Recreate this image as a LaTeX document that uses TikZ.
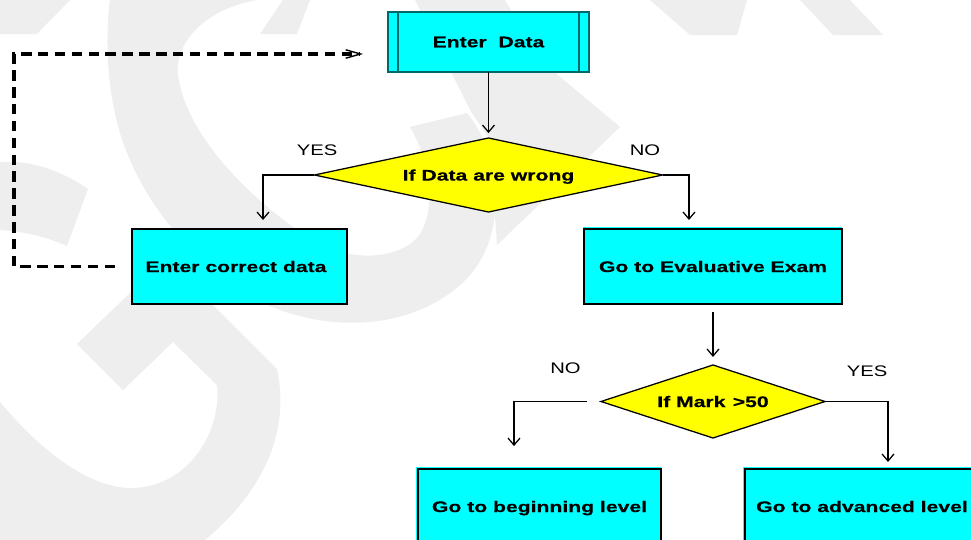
\documentclass[tikz,border=0pt]{standalone}
\usepackage{fontspec}
\setmainfont{Liberation Sans}[FakeStretch=1.38, BoldFeatures={FakeBold=0.4}]
\newfontfamily\lblfont{Liberation Sans}[FakeStretch=1.32]
\usetikzlibrary{arrows.meta,shapes.geometric}
\definecolor{boxcyan}{HTML}{00FFFF}
\definecolor{dyellow}{HTML}{FFFF00}
\definecolor{wm}{HTML}{EEEEEE}
\definecolor{edborder}{HTML}{006868}
\tikzset{
  procbox/.style={rectangle, draw=black, line width=1.4pt, fill=boxcyan, inner sep=0pt, outer sep=0pt,
    text depth=0pt, font=\fontsize{10.9}{13}\selectfont\bfseries, minimum height=1.875cm},
  databox/.style={procbox, draw=edborder, minimum width=5cm, minimum height=1.5cm},
  edline/.style={draw=edborder, line width=1.4pt},
  decbox/.style={diamond, draw=black, line width=0.9pt, fill=dyellow, inner sep=0pt, outer sep=0pt,
    text depth=0pt, font=\fontsize{10.9}{13}\selectfont\bfseries},
  flow/.style={draw=black, line width=0.9pt, -{Straight Barb[length=5pt,width=8.5pt]}},
  feedback/.style={draw=black, line width=2.3pt, dash pattern=on 7.5pt off 4.5pt,
    -{Straight Barb[length=10.5pt,width=6pt,line width=1pt]}},
  lbl/.style={inner sep=0pt, text depth=0pt, font=\lblfont\fontsize{10.9}{13}\selectfont},
  wmark/.style={fill=wm},
  cyanstrip/.style={fill=boxcyan}
}
\begin{document}
\begin{tikzpicture}[x=0.025cm,y=-0.025cm]
\useasboundingbox (0,0) rectangle (971,539);
\clip (0,0) rectangle (971,539);
\fill[white] (0,0) rectangle (971,539);
% watermark
\fill[wmark] (110,-1) .. controls (104,50) and (108,110) .. (130,160)
  .. controls (160,230) and (230,300) .. (300,316)
  .. controls (360,332) and (430,320) .. (470,275)
  .. controls (505,235) and (505,160) .. (467,113)
  -- (410,127) .. controls (435,170) and (435,220) .. (415,240)
  .. controls (390,262) and (340,262) .. (300,232)
  .. controls (240,190) and (185,130) .. (178,75)
  .. controls (174,40) and (210,5) .. (265,-1) -- cycle;
\fill[wmark] (77,344) -- (123,390) -- (173,342) -- (217,385)
  .. controls (222,430) and (190,485) .. (135,488)
  .. controls (90,490) and (40,450) .. (0,402) -- (0,540) -- (205,540)
  .. controls (265,490) and (290,430) .. (277,369) -- (190,282) -- (185,240) -- cycle;
\fill[wmark] (0,162) .. controls (30,160) and (60,170) .. (88,189) -- (67,246)
  .. controls (45,236) and (20,231) .. (0,230) -- cycle;
\fill[wmark] (0,0) -- (70,0) -- (37,34) -- (0,34) -- cycle;
\fill[wmark] (143,0) -- (203,0) -- (177,34) -- (120,34) -- cycle;
\fill[wmark] (283,0) -- (310,0) -- (297,34) -- (260,34) -- cycle;
\fill[wmark] (650,0) -- (747,0) -- (737,35) -- (690,35) -- cycle;
\fill[wmark] (800,0) -- (850,0) -- (883,35) -- (833,35) -- cycle;
\fill[wmark] (415,0) -- (505,0) -- (540,60) -- (620,127) -- (497,245) -- (490,140) -- (470,110) -- cycle;
% cyan offsets of some boxes
\fill[cyanstrip] (582.5,226.5) rectangle (842,304);
\fill[cyanstrip] (415.5,466.5) rectangle (661,545);
\fill[cyanstrip] (742.5,466.5) rectangle (979,545);
% nodes
\node[databox] (ed) at (488.5,42) {Enter\ \ Data};
\draw[edline] ([xshift=7.1pt]ed.north west) -- ([xshift=7.1pt]ed.south west);
\draw[edline] ([xshift=-7.1pt]ed.north east) -- ([xshift=-7.1pt]ed.south east);
\node[decbox, aspect=4.7, minimum width=8.7cm, minimum height=1.85cm] (dia1) at (488.5,175) {If Data are wrong};
\node[procbox, minimum width=5.375cm] (ecd) at (239.5,266.5) {Enter correct data\hspace*{5pt}};
\node[procbox, minimum width=6.425cm] (eval) at (713,266.5) {Go to Evaluative Exam};
\node[decbox, aspect=3.07, minimum width=5.6cm, minimum height=1.825cm] (dia2) at (713,401.5) {If Mark \kern1pt>50};
\node[procbox, minimum width=6.075cm] (beg) at (539.5,506.5) {Go to beginning level};
\node[procbox, minimum width=5.85cm] (adv) at (862,506.5) {Go to advanced level};
% labels
\node[lbl] (yes1) at (317,150) {YES};
\node[lbl] (no1) at (645,150) {NO};
\node[lbl] (no2) at (565.5,368) {NO};
\node[lbl] (yes2) at (867,371) {YES};
% connector end points
\coordinate (c1) at (263,229);
\coordinate (c2) at (689,229);
\coordinate (c3) at (514,469);
\coordinate (c4) at (888,469);
\coordinate (k1) at (14,266.5);
\coordinate (k2) at (14,54);
\coordinate (fb) at (363,54);
% connectors
\draw[flow, shorten >=3.5pt] (ed.south) -- (dia1.north);
\draw[flow, shorten >=6.4pt] (dia1.west) -| (c1);
\draw[flow, shorten >=6.4pt] (dia1.east) -| (c2);
\draw[flow, shorten <=5.7pt, shorten >=5.7pt] (eval.south) -- (dia2.north);
\draw[flow, shorten <=9.9pt, shorten >=16.3pt] (dia2.west) -| (c3);
\draw[flow, shorten >=5pt] (dia2.east) -| (c4);
\draw[feedback, shorten <=12pt] (ecd.west) -- (k1) -- (k2) -- (fb);
\end{tikzpicture}
\end{document}
